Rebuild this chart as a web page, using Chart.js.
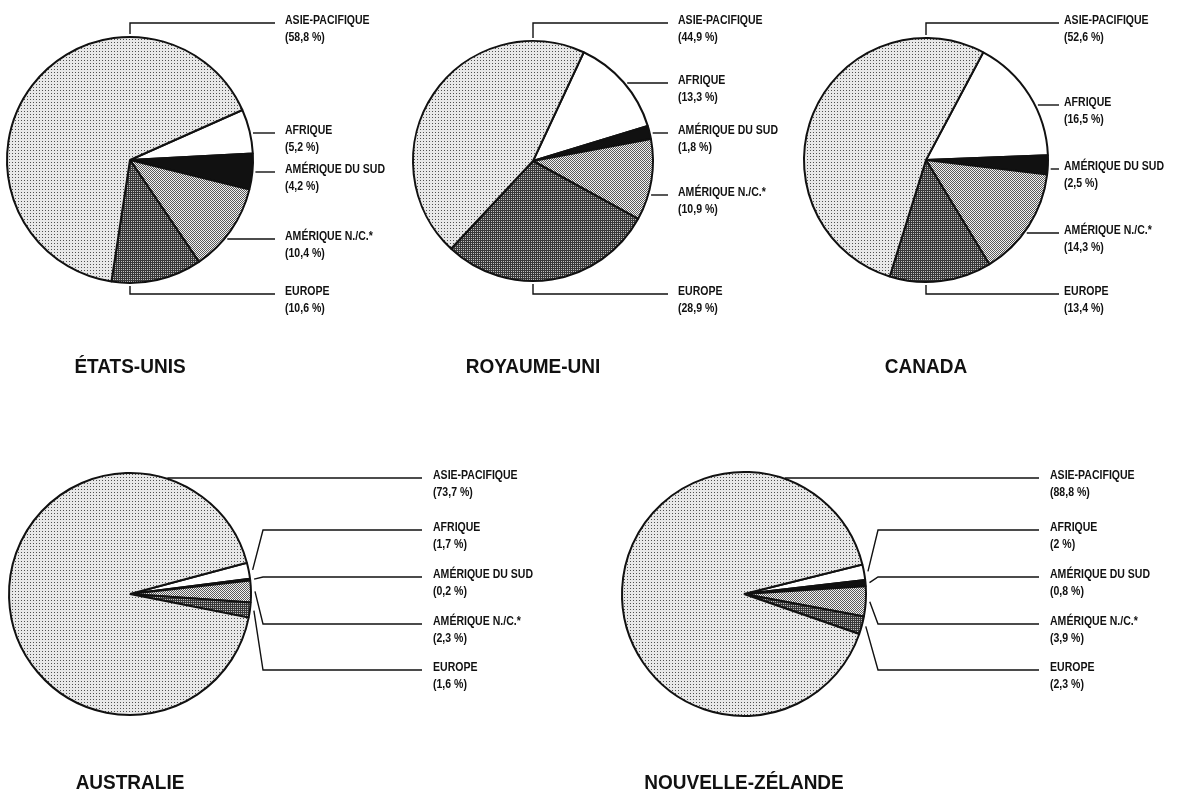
<!DOCTYPE html>
<html lang="fr">
<head>
<meta charset="utf-8">
<title>Répartition par région</title>
<script src="https://cdn.jsdelivr.net/npm/chart.js@4.4.1/dist/chart.umd.min.js"></script>
<style>
  body { margin: 0; background: #fff; }
  #page { position: relative; width: 1182px; height: 797px; overflow: hidden; }
  #page canvas { position: absolute; left: 0; top: 0; }
  .title {
    position: absolute;
    font-family: "Liberation Sans", Arial, sans-serif;
    font-weight: bold;
    font-size: 20px;
    line-height: 20px;
    color: #111;
    white-space: nowrap;
    transform: translateX(-50%) scaleX(0.95);
  }
</style>
</head>
<body>
<div id="page">
  <canvas id="chart-us" width="1182" height="797"></canvas>
  <canvas id="chart-uk" width="1182" height="797"></canvas>
  <canvas id="chart-ca" width="1182" height="797"></canvas>
  <canvas id="chart-au" width="1182" height="797"></canvas>
  <canvas id="chart-nz" width="1182" height="797"></canvas>
</div>
<script>
// slices in drawing order (clockwise from the start angle)
const categories = ['AFRIQUE', 'AMÉRIQUE DU SUD', 'AMÉRIQUE N./C.*', 'EUROPE', 'ASIE-PACIFIQUE'];
const countries = ['ÉTATS-UNIS', 'ROYAUME-UNI', 'CANADA', 'AUSTRALIE', 'NOUVELLE-ZÉLANDE'];
const usValues = [5.2, 4.2, 10.4, 10.6, 58.8];
const ukValues = [13.3, 1.8, 10.9, 28.9, 44.9];
const caValues = [16.5, 2.5, 14.3, 13.4, 52.6];
const auValues = [1.7, 0.2, 2.3, 1.6, 73.7];
const nzValues = [2, 0.8, 3.9, 2.3, 88.8];

const W = 1182, H = 797;

// layout of each panel: pie box, start angle, label column
const panels = [
  { id: 'chart-us', values: usValues, cx: 130, cy: 160, r: 124, rotation: 66, labelX: 285, gap: 10,
    lineYs: [133, 172, 239, 294, 23], route: 'top', titleY: 356 },
  { id: 'chart-uk', values: ukValues, cx: 533, cy: 161, r: 121, rotation: 25, labelX: 678, gap: 10,
    lineYs: [83, 133, 195, 294, 23], route: 'top', titleY: 356 },
  { id: 'chart-ca', values: caValues, cx: 926, cy: 160, r: 123, rotation: 28, labelX: 1064, gap: 5,
    lineYs: [105, 169, 233, 294, 23], route: 'top', titleY: 356 },
  { id: 'chart-au', values: auValues, cx: 130, cy: 594, r: 122, rotation: 75, labelX: 433, gap: 11,
    lineYs: [530, 577, 624, 670, 478], route: 'edge', titleY: 772 },
  { id: 'chart-nz', values: nzValues, cx: 744, cy: 594, r: 123, rotation: 76, labelX: 1050, gap: 11,
    lineYs: [530, 577, 624, 670, 478], route: 'edge', titleY: 772 }
];

function makePattern(size, bg, fg, dots) {
  const c = document.createElement('canvas');
  c.width = c.height = size;
  const g = c.getContext('2d');
  g.fillStyle = bg;
  g.fillRect(0, 0, size, size);
  g.fillStyle = fg;
  dots.forEach(([x, y]) => g.fillRect(x, y, 1, 1));
  return g.createPattern(c, 'repeat');
}

// halftone-ish fills like the printed original
const fills = [
  '#ffffff',
  '#111111',
  makePattern(2, '#f2f2f2', '#5a5a5a', [[0, 0], [1, 1]]),
  makePattern(2, '#383838', '#c0c0c0', [[1, 1]]),
  makePattern(3, '#e8e8e8', '#505050', [[0, 0]])
];

function fmt(v) {
  return '(' + String(v).replace('.', ',') + ' %)';
}

function condensedText(ctx, text, x, y) {
  ctx.save();
  ctx.translate(x, y);
  ctx.scale(0.81, 1);
  ctx.fillText(text, 0, 0);
  ctx.restore();
}

const leaderPlugin = {
  id: 'leaders',
  afterDraw(chart, args, opts) {
    const p = opts.panel;
    const ctx = chart.ctx;
    const arcs = chart.getDatasetMeta(0).data;
    const values = chart.data.datasets[0].data;
    const endX = p.labelX - p.gap;
    ctx.save();
    ctx.strokeStyle = '#111';
    ctx.fillStyle = '#111';
    ctx.lineWidth = 1.4;
    ctx.font = 'bold 13px "Liberation Sans", Arial, sans-serif';
    ctx.textBaseline = 'middle';
    arcs.forEach((arc, i) => {
      const { x, y, startAngle, endAngle, outerRadius } =
        arc.getProps(['x', 'y', 'startAngle', 'endAngle', 'outerRadius'], true);
      const ly = p.lineYs[i];
      const pts = [];
      const edgeX = () => {
        const dy = ly - y;
        return x + Math.sqrt(Math.max(outerRadius * outerRadius - dy * dy, 0)) + 3;
      };
      if (p.route === 'top' && i === 4) {
        pts.push([x, y - outerRadius - 3], [x, ly]);
      } else if (p.route === 'top' && i === 3) {
        pts.push([x, y + outerRadius + 3], [x, ly]);
      } else if (p.route === 'top' || i === 4) {
        // straight line out from the rim at the label's height
        pts.push([edgeX(), ly]);
      } else {
        const mid = (startAngle + endAngle) / 2;
        const ax = x + Math.cos(mid) * (outerRadius + 4);
        const ay = y + Math.sin(mid) * (outerRadius + 4);
        pts.push([ax, ay], [x + outerRadius + 12, ly]);
      }
      pts.push([endX, ly]);
      ctx.beginPath();
      pts.forEach(([px, py], k) => k ? ctx.lineTo(px, py) : ctx.moveTo(px, py));
      ctx.stroke();

      condensedText(ctx, chart.data.labels[i], p.labelX, ly - 3);
      condensedText(ctx, fmt(values[i]), p.labelX, ly + 14);
    });
    ctx.restore();
  }
};

const page = document.getElementById('page');

panels.forEach((p, n) => {
  const ctx = document.getElementById(p.id).getContext('2d');
  new Chart(ctx, {
    type: 'pie',
    data: {
      labels: categories,
      datasets: [{
        data: p.values,
        backgroundColor: fills,
        borderColor: '#111',
        borderWidth: 2,
        hoverOffset: 0
      }]
    },
    options: {
      responsive: false,
      animation: false,
      rotation: p.rotation,
      layout: {
        padding: {
          left: p.cx - p.r,
          top: p.cy - p.r,
          right: W - (p.cx + p.r),
          bottom: H - (p.cy + p.r)
        }
      },
      events: [],
      plugins: {
        legend: { display: false },
        tooltip: { enabled: false },
        leaders: { panel: p }
      }
    },
    plugins: [leaderPlugin]
  });

  // country name centred under its pie
  const t = document.createElement('div');
  t.className = 'title';
  t.textContent = countries[n];
  t.style.left = p.cx + 'px';
  t.style.top = p.titleY + 'px';
  page.appendChild(t);
});
</script>
</body>
</html>
